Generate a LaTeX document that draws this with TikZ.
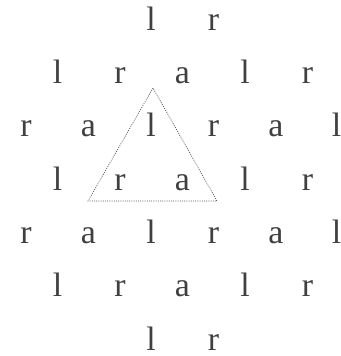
\documentclass[tikz,border=0pt]{standalone}
\usepackage{fontspec}
\setmainfont{Liberation Serif}
\definecolor{txt}{HTML}{404040}
\definecolor{tri}{HTML}{555555}
\tikzset{
  letter/.style={anchor=base, inner sep=0pt, text=txt, font=\fontsize{34}{34}\selectfont},
  triline/.style={draw=tri, line width=0.7bp, dash pattern=on 1bp off 1.2bp}
}
\begin{document}
\begin{tikzpicture}[x=1bp,y=-1bp]
\useasboundingbox (0,0) rectangle (341,356);
% row 1
\node[letter] (a1) at (151,30) {l};
\node[letter] (a2) at (213.5,30) {r};
% row 2
\node[letter] (b1) at (57.5,83.3) {l};
\node[letter] (b2) at (120,83.3) {r};
\node[letter] (b3) at (182.5,83.3) {a};
\node[letter] (b4) at (245,83.3) {l};
\node[letter] (b5) at (307.5,83.3) {r};
% row 3
\node[letter] (c1) at (26,136.7) {r};
\node[letter] (c2) at (88.5,136.7) {a};
\node[letter] (c3) at (151,136.7) {l};
\node[letter] (c4) at (213.5,136.7) {r};
\node[letter] (c5) at (276,136.7) {a};
\node[letter] (c6) at (336.5,136.7) {l};
% row 4
\node[letter] (d1) at (57.5,190) {l};
\node[letter] (d2) at (120,190) {r};
\node[letter] (d3) at (182.5,190) {a};
\node[letter] (d4) at (245,190) {l};
\node[letter] (d5) at (307.5,190) {r};
% row 5
\node[letter] (e1) at (26,243.3) {r};
\node[letter] (e2) at (88.5,243.3) {a};
\node[letter] (e3) at (151,243.3) {l};
\node[letter] (e4) at (213.5,243.3) {r};
\node[letter] (e5) at (276,243.3) {a};
\node[letter] (e6) at (336.5,243.3) {l};
% row 6
\node[letter] (f1) at (57.5,296.7) {l};
\node[letter] (f2) at (120,296.7) {r};
\node[letter] (f3) at (182.5,296.7) {a};
\node[letter] (f4) at (245,296.7) {l};
\node[letter] (f5) at (307.5,296.7) {r};
% row 7
\node[letter] (g1) at (151,350) {l};
\node[letter] (g2) at (213.5,350) {r};
% triangle
\coordinate (tA) at (153,88);
\coordinate (tB) at (88,201);
\coordinate (tC) at (217,201);
\draw[triline] (tA) -- (tB) -- (tC) -- cycle;
\end{tikzpicture}
\end{document}
